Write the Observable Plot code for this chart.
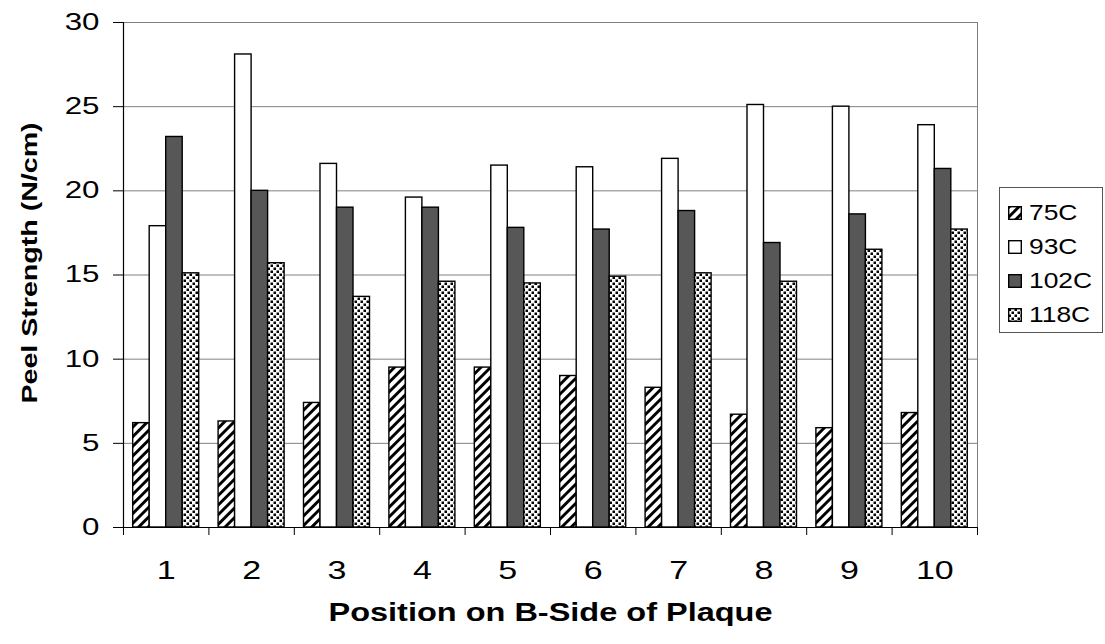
<!DOCTYPE html>
<html>
<head>
<meta charset="utf-8">
<script src="https://cdn.jsdelivr.net/npm/d3@7"></script>
<script src="https://cdn.jsdelivr.net/npm/@observablehq/plot@0.6"></script>
<style>
  body { margin: 0; background: #fff; font-family: "Liberation Sans", Arial, sans-serif; }
  #wrap { position: relative; width: 1105px; height: 644px; }
  #legend {
    position: absolute; left: 999px; top: 187px; width: 104px; height: 146px;
    border: 1px solid #555; box-sizing: border-box; background: #fff;
    padding-top: 8px;
  }
  .item { display: flex; align-items: center; height: 34px; padding-left: 8px; font-size: 22px; color: #000; }
  .item svg { margin-right: 7px; flex: none; }
  .item span { display: inline-block; transform: scaleX(1.2); transform-origin: left center; }
</style>
</head>
<body>
<div id="wrap"></div>
<script>
// Peel strength (N/cm) at ten positions on the B-side of the plaque, per cure temperature
const positions = [1, 2, 3, 4, 5, 6, 7, 8, 9, 10];
const series = ["75C", "93C", "102C", "118C"];
const v75C  = [6.2, 6.3, 7.4, 9.5, 9.5, 9.0, 8.3, 6.7, 5.9, 6.8];
const v93C  = [17.9, 28.1, 21.6, 19.6, 21.5, 21.4, 21.9, 25.1, 25.0, 23.9];
const v102C = [23.2, 20.0, 19.0, 19.0, 17.8, 17.7, 18.8, 16.9, 18.6, 21.3];
const v118C = [15.1, 15.7, 13.7, 14.6, 14.5, 14.9, 15.1, 14.6, 16.5, 17.7];
const yTicks = [0, 5, 10, 15, 20, 25, 30];

const valuesBySeries = { "75C": v75C, "93C": v93C, "102C": v102C, "118C": v118C };
const fills = { "75C": "url(#hatch)", "93C": "#ffffff", "102C": "#575757", "118C": "url(#dots)" };

// Clustered layout inside each unit-wide category slot
const groupGap = 0.227;
const barW = (1 - groupGap) / series.length;

const rows = series.flatMap((s, i) =>
  positions.map((p, j) => ({
    series: s,
    pos: p,
    value: valuesBySeries[s][j],
    x1: p - 0.5 + groupGap / 2 + i * barW,
    x2: p - 0.5 + groupGap / 2 + (i + 1) * barW
  }))
);

const boundaries = [0, ...positions].map(p => p + 0.5);

const chart = Plot.plot({
  width: 1105,
  height: 644,
  marginLeft: 123,
  marginRight: 128,
  marginTop: 22,
  marginBottom: 117,
  style: { fontFamily: "'Liberation Sans', Arial, sans-serif", color: "#000", background: "#fff" },
  x: { type: "linear", domain: [0.5, 10.5] },
  y: { domain: [0, 30] },
  marks: [
    Plot.gridY(yTicks, { stroke: "#808080", strokeOpacity: 1, strokeWidth: 1 }),
    Plot.ruleX([10.5], { stroke: "#808080", strokeWidth: 1 }),
    ...series.map(s =>
      Plot.rectY(rows.filter(d => d.series === s), {
        x1: "x1", x2: "x2", y: "value",
        fill: fills[s], stroke: "#000", strokeWidth: 1.4
      })
    ),
    Plot.ruleY([0], { stroke: "#000", strokeWidth: 1.2 }),
    Plot.ruleX([0.5], { stroke: "#000", strokeWidth: 1.2 }),
    Plot.axisY({ ticks: yTicks, tickSize: 10, tickPadding: 14, fontSize: 23, label: null, stroke: "#000" }),
    Plot.axisX({ ticks: boundaries, tickSize: 8, tickFormat: () => "", label: null, stroke: "#000" }),
    Plot.axisX({ ticks: positions, tickSize: 0, tickPadding: 34, fontSize: 25, tickFormat: d => String(d), label: null }),
    Plot.text(["Peel Strength (N/cm)"], {
      frameAnchor: "left", textAnchor: "middle", dx: -94, dy: -12, rotate: -90,
      fontSize: 22, fontWeight: "bold", fill: "#000"
    }),
    Plot.text(["Position on B-Side of Plaque"], {
      frameAnchor: "bottom", textAnchor: "middle", dy: 93,
      fontSize: 25, fontWeight: "bold", fill: "#000"
    })
  ]
});

// The typeface is set wide: stretch every label along its own baseline
chart.querySelectorAll("text").forEach(t => {
  const base = t.getAttribute("transform") || "";
  const k = t.closest("[aria-label='text']") ? 1.3 : 1.36;
  t.setAttribute("transform", `${base} scale(${k},1)`);
});

// Fill patterns: diagonal hatching and staggered dots
const ns = "http://www.w3.org/2000/svg";
const defs = document.createElementNS(ns, "defs");
defs.innerHTML = `
  <pattern id="hatch" patternUnits="userSpaceOnUse" width="6.8" height="6.8" patternTransform="rotate(45)">
    <rect width="6.8" height="6.8" fill="#fff"></rect>
    <rect x="0" y="0" width="2.9" height="6.8" fill="#000"></rect>
  </pattern>
  <pattern id="dots" patternUnits="userSpaceOnUse" width="6" height="6">
    <rect width="6" height="6" fill="#fff"></rect>
    <rect x="0.5" y="0.5" width="2.5" height="2.5" fill="#000"></rect>
    <rect x="3.5" y="3.5" width="2.5" height="2.5" fill="#000"></rect>
  </pattern>`;
chart.insertBefore(defs, chart.firstChild);

const wrap = document.getElementById("wrap");
wrap.appendChild(chart);

// Legend box on the right
const legend = document.createElement("div");
legend.id = "legend";
series.forEach(s => {
  const item = document.createElement("div");
  item.className = "item";
  item.innerHTML = `<svg width="14" height="14"><rect x="0.7" y="0.7" width="12.6" height="12.6" fill="${fills[s]}" stroke="#000" stroke-width="1.4"></rect></svg><span>${s}</span>`;
  legend.appendChild(item);
});
wrap.appendChild(legend);
</script>
</body>
</html>
